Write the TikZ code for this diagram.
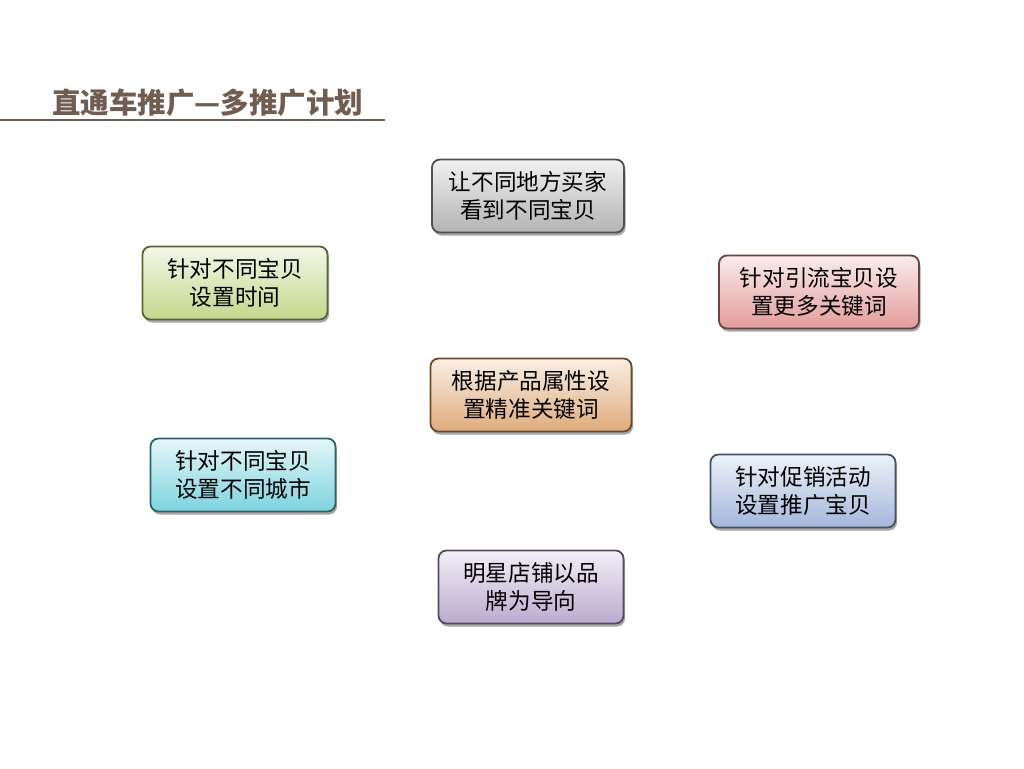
\documentclass[tikz,border=0pt]{standalone}
\usepackage{fontspec}
\newfontfamily\cjk{Noto Sans CJK SC}
\newfontfamily\cjkb{Noto Sans CJK SC Black}
\usetikzlibrary{shadows}
\begin{document}
\begin{tikzpicture}[x=1pt,y=-1pt,
  box/.style={draw=#1!50!black, line width=1.8pt, rounded corners=8pt,
    minimum height=73pt, align=center, inner sep=0pt,
    font=\cjk\fontsize{22.6}{27.5}\selectfont, text=black,
    drop shadow={shadow xshift=1.5pt, shadow yshift=-3pt, fill=black, opacity=0.35},
    top color=#1!15!white, bottom color=#1!80!white},
  title/.style={font=\cjkb\fontsize{28.5}{30}\selectfont, text=titlec, anchor=base west, inner sep=0pt}]
\definecolor{titlec}{RGB}{112,92,80}
\definecolor{cgray}{RGB}{160,160,160}
\definecolor{cgreen}{RGB}{180,205,110}
\definecolor{cred}{RGB}{220,130,130}
\definecolor{corange}{RGB}{215,150,90}
\definecolor{ccyan}{RGB}{90,200,215}
\definecolor{cblue}{RGB}{140,165,210}
\definecolor{cpurple}{RGB}{170,150,195}
\useasboundingbox[fill=white] (0,0) rectangle (1024,768);
\node[title] (t) at (52,113) {直通车推广—多推广计划};
\coordinate (l1) at (0,120);
\coordinate (l2) at (385,120);
\draw[titlec, line width=1.6pt] (l1) -- (l2);
\node[box=cgray, minimum width=192pt] (a) at (528,196) {让不同地方买家\\看到不同宝贝};
\node[box=cgreen, minimum width=185pt] (b) at (235,283) {针对不同宝贝\\设置时间};
\node[box=cred, minimum width=200pt] (c) at (819,292) {针对引流宝贝设\\置更多关键词};
\node[box=corange, minimum width=201pt] (d) at (531,395) {根据产品属性设\\置精准关键词};
\node[box=ccyan, minimum width=185pt] (e) at (243,475) {针对不同宝贝\\设置不同城市};
\node[box=cblue, minimum width=185pt] (f) at (803,491) {针对促销活动\\设置推广宝贝};
\node[box=cpurple, minimum width=185pt] (g) at (531,587) {明星店铺以品\\牌为导向};
\end{tikzpicture}
\end{document}
